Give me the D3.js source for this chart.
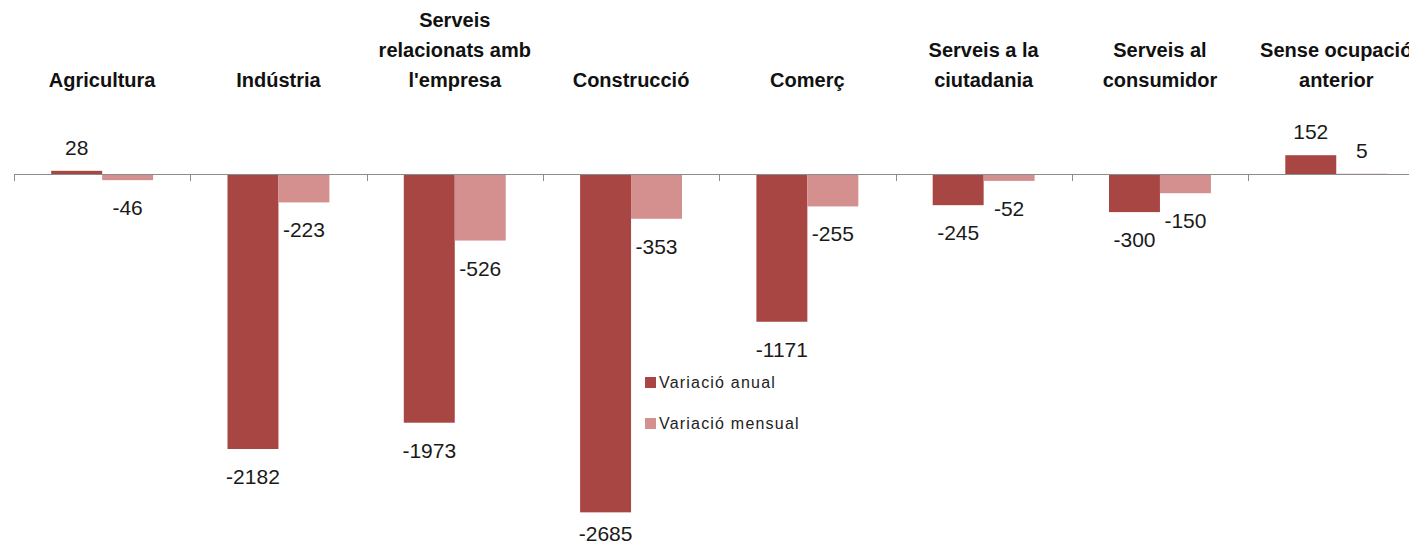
<!DOCTYPE html>
<html>
<head>
    <meta charset="UTF-8">
    <title>Variació per sectors</title>
    <script src="https://d3js.org/d3.v7.min.js"></script>
    <style>
        body { margin: 0; background: #fff; }
    </style>
</head>
<body>
    <div id="chart"></div>
    <script>
        // data
        var categories = ["Agricultura", "Indústria", "Serveis relacionats amb l'empresa", "Construcció",
            "Comerç", "Serveis a la ciutadania", "Serveis al consumidor", "Sense ocupació anterior"];
        var labelLines = [["Agricultura"], ["Indústria"], ["Serveis", "relacionats amb", "l'empresa"], ["Construcció"],
            ["Comerç"], ["Serveis a la", "ciutadania"], ["Serveis al", "consumidor"], ["Sense ocupació", "anterior"]];
        var seriesNames = ["Variació anual", "Variació mensual"];
        var anual = [28, -2182, -1973, -2685, -1171, -245, -300, 152];
        var mensual = [-46, -223, -526, -353, -255, -52, -150, 5];
        var colors = ["#a84644", "#d4908f"];

        var width = 1409, height = 543;

        var svg = d3.select("#chart").append("svg")
            .attr("width", width)
            .attr("height", height)
            .style("display", "block");

        // scales
        var x = d3.scaleBand()
            .domain(categories)
            .range([14, 14 + 8 * 176.3])
            .padding(0);

        var xSub = d3.scaleBand()
            .domain(seriesNames)
            .range([0, x.bandwidth()])
            .paddingInner(0)
            .paddingOuter(0.73);

        var y = d3.scaleLinear()
            .domain([-3000, 500])
            .range([552, 111.4]);

        var data = categories.map(function (c, i) {
            return { cat: c, values: [anual[i], mensual[i]] };
        });

        // bars
        var groups = svg.selectAll(".grp")
            .data(data)
            .enter()
            .append("g")
            .attr("class", "grp")
            .attr("transform", function (d) { return "translate(" + x(d.cat) + ",0)"; });

        groups.selectAll("rect")
            .data(function (d) {
                return d.values.map(function (v, j) { return { s: seriesNames[j], v: v, j: j }; });
            })
            .enter()
            .append("rect")
            .attr("x", function (d) { return xSub(d.s); })
            .attr("width", xSub.bandwidth())
            .attr("y", function (d) { return y(Math.max(0, d.v)); })
            .attr("height", function (d) { return Math.abs(y(d.v) - y(0)); })
            .style("fill", function (d) { return colors[d.j]; });

        // value labels (kept inside the picture, like the original)
        groups.selectAll("text.val")
            .data(function (d) {
                return d.values.map(function (v, j) { return { s: seriesNames[j], v: v }; });
            })
            .enter()
            .append("text")
            .attr("class", "val")
            .attr("x", function (d) { return xSub(d.s) + xSub.bandwidth() / 2; })
            .attr("y", function (d) { return d.v >= 0 ? y(d.v) - 16 : Math.min(y(d.v) + 35, height - 2); })
            .attr("text-anchor", "middle")
            .style("font-family", "'Liberation Sans', Arial, sans-serif")
            .style("font-size", "21px")
            .style("fill", "#1a1a1a")
            .text(function (d) { return d.v; });

        // axis line at zero
        svg.append("line")
            .attr("x1", x.range()[0])
            .attr("x2", width)
            .attr("y1", Math.round(y(0)) + 0.5)
            .attr("y2", Math.round(y(0)) + 0.5)
            .style("stroke", "#8c8c8c")
            .style("stroke-width", 1);

        var bounds = categories.map(function (c) { return x(c); }).concat([x.range()[1]]);
        svg.selectAll(".tick")
            .data(bounds)
            .enter()
            .append("line")
            .attr("class", "tick")
            .attr("x1", function (d) { return Math.round(d) + 0.5; })
            .attr("x2", function (d) { return Math.round(d) + 0.5; })
            .attr("y1", Math.round(y(0)))
            .attr("y2", Math.round(y(0)) + 7)
            .style("stroke", "#8c8c8c")
            .style("stroke-width", 1);

        // category labels (bottom aligned)
        var lineH = 30, lastBaseline = 87;
        categories.forEach(function (c, i) {
            var lines = labelLines[i];
            var t = svg.append("text")
                .attr("text-anchor", "middle")
                .style("font-family", "'Liberation Sans', Arial, sans-serif")
                .style("font-weight", "bold")
                .style("font-size", "20px")
                .style("fill", "#111");
            lines.forEach(function (l, k) {
                t.append("tspan")
                    .attr("x", x(c) + x.bandwidth() / 2)
                    .attr("y", lastBaseline - (lines.length - 1 - k) * lineH)
                    .text(l);
            });
        });

        // legend
        var legend = svg.selectAll(".legend")
            .data(seriesNames)
            .enter()
            .append("g")
            .attr("class", "legend")
            .attr("transform", function (d, i) { return "translate(645," + (377 + i * 41) + ")"; });

        legend.append("rect")
            .attr("width", 11)
            .attr("height", 11)
            .style("fill", function (d, i) { return colors[i]; });

        legend.append("text")
            .attr("x", 14)
            .attr("y", 11)
            .style("font-family", "'Liberation Sans', Arial, sans-serif")
            .style("font-size", "16px")
            .style("letter-spacing", "1.2px")
            .style("fill", "#222")
            .text(function (d) { return d; });
    </script>
</body>
</html>
